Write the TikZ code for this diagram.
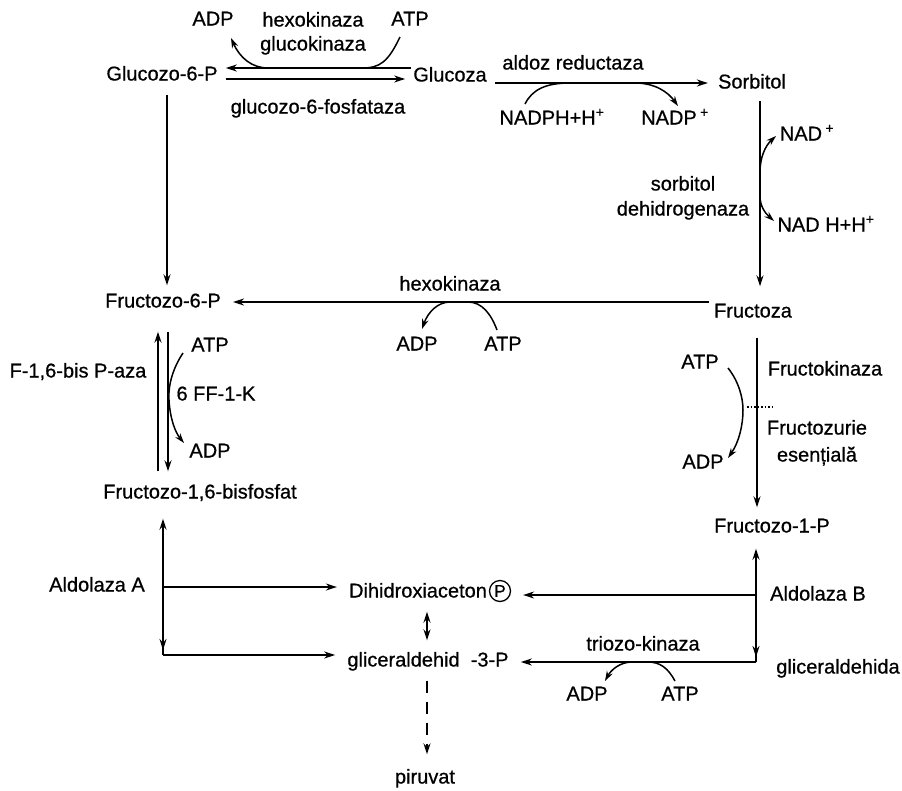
\documentclass[tikz,border=0pt]{standalone}
\usepackage{fontspec}
\setmainfont{Liberation Sans}[RawFeature={embolden=0.7}]
\usetikzlibrary{arrows.meta}
\begin{document}
\begin{tikzpicture}[x=1pt,y=-1pt,
  lbl/.style={font=\fontsize{20}{24}\selectfont, inner sep=2pt, text height=15pt, text depth=4pt},
  arr/.style={line width=1.6pt, -{Stealth[length=11pt,width=7pt]}},
  carr/.style={line width=1.5pt, -{Stealth[length=10pt,width=6.5pt]}},
  ln/.style={line width=1.6pt}]
\useasboundingbox[fill=white] (0,0) rectangle (902,790);

% main metabolites
\node[lbl] (g6p)  at (162,75)  {Glucozo-6-P};
\node[lbl] (glu)  at (450,76)  {Glucoza};
\node[lbl] (sorb) at (752,83)  {Sorbitol};
\node[lbl] (f6p)  at (163,302) {Fructozo-6-P};
\node[lbl] (fru)  at (753,312) {Fructoza};
\node[lbl] (f16)  at (200,493) {Fructozo-1,6-bisfosfat};
\node[lbl] (f1p)  at (772,527) {Fructozo-1-P};
\node[lbl] (dhap) at (418,592) {Dihidroxiaceton};
\node[circle, draw, line width=1.3pt, inner sep=0pt, minimum size=21pt,
      font=\fontsize{17}{20}\selectfont] (dhapP) at (500,591) {P};
\node[lbl] (gap)  at (428,661) {gliceraldehid\ \ -3-P};
\node[lbl] (pir)  at (425,778) {piruvat};
\node[lbl] (glyc) at (838,668) {gliceraldehida};
\node[lbl] (aldA) at (97,586)  {Aldolaza A};
\node[lbl] (aldB) at (818,595) {Aldolaza B};

% enzyme and cofactor labels
\node[lbl] (adp1) at (213,20)  {ADP};
\node[lbl] (hk1)  at (313,21)  {hexokinaza};
\node[lbl] (gk)   at (313,45)  {glucokinaza};
\node[lbl] (atp1) at (410,20)  {ATP};
\node[lbl] (g6pase) at (318,108) {glucozo-6-fosfataza};
\node[lbl] (aldr) at (573,64)  {aldoz reductaza};
\node[lbl] (nadph) at (552,119) {NADPH+H\textsuperscript{+}};
\node[lbl] (nadp) at (675,119) {NADP\,\textsuperscript{+}};
\node[lbl] (sd1)  at (683,185) {sorbitol};
\node[lbl] (sd2)  at (683,210) {dehidrogenaza};
\node[lbl] (nad)  at (807,135) {NAD\,\textsuperscript{+}};
\node[lbl] (nadh) at (826,226) {NAD H+H\textsuperscript{+}};
\node[lbl] (hk2)  at (450,285) {hexokinaza};
\node[lbl] (adp2) at (417,345) {ADP};
\node[lbl] (atp2) at (503,345) {ATP};
\node[lbl] (fbpase) at (78,372) {F-1,6-bis P-aza};
\node[lbl] (atp3) at (210,346) {ATP};
\node[lbl] (pfk)  at (216,395) {6 FF-1-K};
\node[lbl] (adp3) at (210,452) {ADP};
\node[lbl] (atp4) at (700,363) {ATP};
\node[lbl] (adp4) at (703,463) {ADP};
\node[lbl] (fk)   at (825,370) {Fructokinaza};
\node[lbl] (fz1)  at (817,429) {Fructozurie};
\node[lbl] (fz2)  at (817,456) {esențială};
\node[lbl] (tk)   at (643,645) {triozo-kinaza};
\node[lbl] (adp5) at (587,695) {ADP};
\node[lbl] (atp5) at (680,695) {ATP};

% glucose <-> glucose-6-P
\draw[arr, shorten >=6pt] ([yshift=8pt]glu.west) -- ([yshift=8pt]glu.west -| g6p.east);
\draw[arr, shorten <=6pt, shorten >=6pt] ([yshift=-4pt]g6p.east) -- ([yshift=-4pt]g6p.east -| glu.west);
\draw[carr] (400,37) .. controls (388,62) and (380,68) .. (362,68) -- (268,68)
            .. controls (252,68) and (240,58) .. (231,38);

% glucose -> sorbitol
\draw[arr, shorten <=6pt, shorten >=8pt] ([yshift=-7pt]glu.east) -- ([yshift=-7pt]glu.east -| sorb.west);
\draw[carr] (525,104) .. controls (532,90) and (545,83) .. (570,83) -- (635,83)
            .. controls (655,83) and (668,92) .. (678,106);

% sorbitol -> fructose
\draw[arr, shorten <=6pt, shorten >=14pt] ([xshift=8pt]sorb.south) -- ([xshift=8pt]sorb.south |- fru.north);
\draw[carr, {Stealth[length=10pt,width=6.5pt]}-{Stealth[length=10pt,width=6.5pt]}]
  (776,136) .. controls (765,146) and (760,158) .. (760,172) -- (760,196)
  .. controls (760,206) and (765,213) .. (774,221);

% glucose-6-P -> fructose-6-P
\draw[arr, shorten <=8pt, shorten >=5pt] ([xshift=5pt]g6p.south) -- ([xshift=5pt]g6p.south |- f6p.north);

% fructose -> fructose-6-P
\draw[arr, shorten <=3pt, shorten >=10pt] ([yshift=10pt]fru.west) -- ([yshift=10pt]fru.west -| f6p.east);
\draw[carr] (497,330) .. controls (491,314) and (482,302) .. (468,302) -- (450,302)
            .. controls (438,302) and (428,312) .. (422,329);

% fructose-6-P <-> fructose-1,6-bisP
\draw[arr, shorten <=10pt, shorten >=18pt] ([xshift=-5pt]f16.north -| f6p.south) -- ([xshift=-5pt]f6p.south);
\draw[arr, shorten <=18pt, shorten >=10pt] ([xshift=5pt]f6p.south) -- ([xshift=5pt]f6p.south |- f16.north);
\draw[carr] (183,353) .. controls (173,368) and (168,385) .. (169,400)
            .. controls (170,418) and (175,432) .. (184,443);

% fructose -> fructose-1-P
\draw[arr, shorten <=14pt, shorten >=8pt] ([xshift=4pt]fru.south) -- ([xshift=4pt]fru.south |- f1p.north);
\draw[carr] (728,368) .. controls (739,382) and (743,398) .. (743,410)
            .. controls (743,425) and (739,442) .. (728,458);
\draw[line width=1.5pt, dotted] (747,407) -- (773,407);

% aldolase A
\coordinate (cA1) at (163,587);
\coordinate (cA2) at (163,655);
\draw[arr, shorten >=14pt] (cA2) -- (cA2 |- f16.south);
\draw[arr, shorten >=5pt] ([yshift=22pt]cA2) -- (cA2);
\draw[arr, shorten >=10pt] (cA1) -- (cA1 -| dhap.west);
\draw[arr, shorten >=10pt] (cA2) -- (cA2 -| gap.west);

% aldolase B
\coordinate (cB1) at (756,595);
\coordinate (cB2) at (756,662);
\draw[arr, shorten >=10pt] (cB2) -- (cB2 |- f1p.south);
\draw[arr, shorten >=5pt] ([yshift=22pt]cB2) -- (cB2);
\draw[arr, shorten >=12pt] (cB1) -- (cB1 -| dhapP.east);
\draw[arr, shorten >=10pt] (cB2) -- (cB2 -| gap.east);
\draw[carr] (675,681) .. controls (668,668) and (660,662) .. (648,662) -- (632,662)
            .. controls (620,662) and (611,670) .. (605,681);

% DHAP <-> GAP
\draw[line width=1.6pt, {Stealth[length=11pt,width=7pt]}-{Stealth[length=11pt,width=7pt]},
      shorten <=8pt, shorten >=9pt] ([xshift=9pt]dhap.south) -- ([xshift=9pt]dhap.south |- gap.north);

% GAP --> piruvat
\draw[arr, dash pattern=on 12pt off 9pt, shorten <=8pt, shorten >=12pt]
  ([xshift=-1pt]gap.south) -- ([xshift=-1pt]gap.south |- pir.north);
\end{tikzpicture}
\end{document}
